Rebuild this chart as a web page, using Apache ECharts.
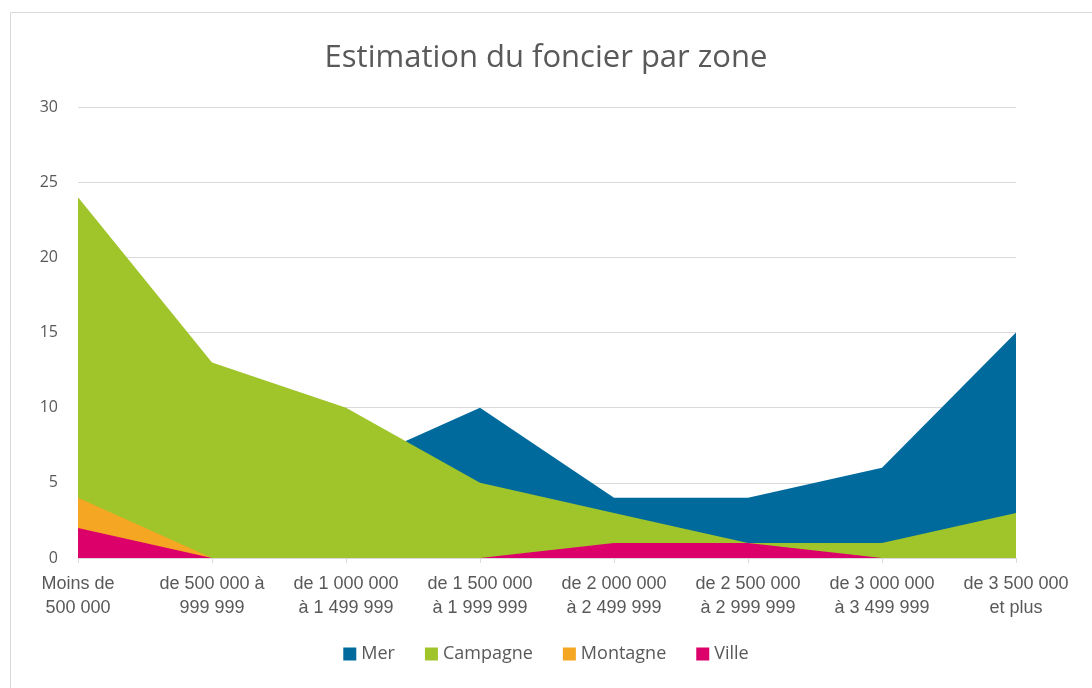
<!DOCTYPE html>
<html>
<head>
<meta charset="utf-8">
<script src="https://cdn.jsdelivr.net/npm/echarts@6/dist/echarts.min.js"></script>
<style>
  html, body { margin: 0; padding: 0; background: #fff; }
  #chart { width: 1092px; height: 688px; }
</style>
</head>
<body>
<div id="chart"></div>
<script>
// données
const categories = [
    'Moins de\n500 000',
    'de 500 000 à\n999 999',
    'de 1 000 000\nà 1 499 999',
    'de 1 500 000\nà 1 999 999',
    'de 2 000 000\nà 2 499 999',
    'de 2 500 000\nà 2 999 999',
    'de 3 000 000\nà 3 499 999',
    'de 3 500 000\net plus'
];
const mer = [8, 5, 6, 10, 4, 4, 6, 15];
const campagne = [24, 13, 10, 5, 3, 1, 1, 3];
const montagne = [4, 0, 0, 0, 0, 0, 0, 0];
const ville = [2, 0, 0, 0, 1, 1, 0, 0];

const colors = ['#006a9c', '#9fc52a', '#f5a623', '#dc006b'];

const chart = echarts.init(document.getElementById('chart'), null, {renderer: 'canvas'});

function area(name, data, color) {
    return {
        name: name,
        type: 'line',
        data: data,
        symbol: 'none',
        lineStyle: {width: 0, color: color},
        itemStyle: {color: color},
        areaStyle: {color: color, opacity: 1},
        emphasis: {disabled: true}
    };
}

chart.setOption({
    animation: false,
    backgroundColor: '#fff',
    title: {
        text: 'Estimation du foncier par zone',
        left: 'center',
        top: 38,
        textStyle: {
            fontFamily: 'Open Sans',
            fontSize: 31,
            fontWeight: 'normal',
            color: '#595959'
        }
    },
    graphic: [{
        type: 'rect',
        shape: {x: 10.5, y: 12.5, width: 1090, height: 680},
        style: {fill: 'none', stroke: '#d9d9d9', lineWidth: 1}
    }],
    legend: {
        bottom: 20,
        left: 'center',
        itemWidth: 13,
        itemHeight: 13,
        itemGap: 30,
        icon: 'rect',
        textStyle: {fontFamily: 'Open Sans', fontSize: 18, color: '#595959'},
        data: ['Mer', 'Campagne', 'Montagne', 'Ville']
    },
    grid: {left: 78, right: 76, top: 107, bottom: 130},
    xAxis: {
        type: 'category',
        data: categories,
        boundaryGap: false,
        axisLine: {lineStyle: {color: '#d9d9d9'}},
        axisTick: {show: true, length: 5, lineStyle: {color: '#d9d9d9'}},
        axisLabel: {
            interval: 0,
            fontFamily: 'Liberation Sans',
            fontSize: 18,
            lineHeight: 24,
            color: '#595959',
            margin: 14
        }
    },
    yAxis: {
        type: 'value',
        min: 0,
        max: 30,
        interval: 5,
        axisLine: {show: false},
        axisTick: {show: false},
        splitLine: {lineStyle: {color: '#d9d9d9'}},
        axisLabel: {
            fontFamily: 'Open Sans',
            fontSize: 16,
            color: '#595959',
            margin: 20
        }
    },
    series: [
        area('Mer', mer, colors[0]),
        area('Campagne', campagne, colors[1]),
        area('Montagne', montagne, colors[2]),
        area('Ville', ville, colors[3])
    ]
});
</script>
</body>
</html>
